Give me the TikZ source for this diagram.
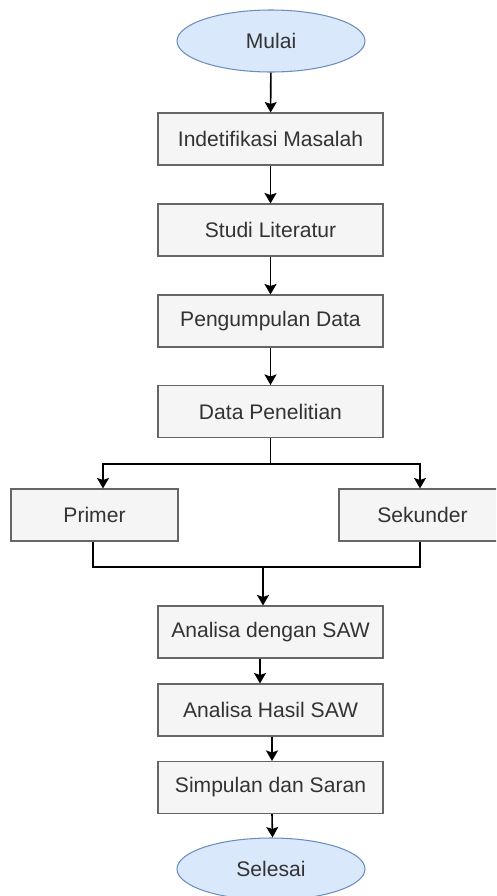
\documentclass[tikz,border=0pt]{standalone}
\usepackage{fontspec}
\setmainfont{Liberation Sans}
\usetikzlibrary{shapes.geometric,arrows.meta}

\definecolor{kotakisi}{HTML}{F5F5F5}
\definecolor{kotakgaris}{HTML}{666666}
\definecolor{elipsisi}{HTML}{DAE8FC}
\definecolor{elipsgaris}{HTML}{6C8EBF}
\definecolor{teks}{HTML}{333333}

\tikzset{
  proses/.style={draw=kotakgaris, fill=kotakisi, line width=0.6pt, minimum width=4.5cm,
    minimum height=1.04cm, text=teks, font=\fontsize{12}{14}\selectfont},
  cabang/.style={proses, minimum width=3.34cm},
  terminal/.style={ellipse, draw=elipsgaris, fill=elipsisi, line width=0.6pt, minimum width=3.76cm,
    minimum height=1.24cm, text=teks, font=\fontsize{12}{14}\selectfont},
  panah/.style={draw=black, line width=0.9pt, -{Stealth[length=0.21cm,width=0.24cm,inset=0.04cm]}},
  garis/.style={draw=black, line width=0.9pt}
}

\begin{document}
\begin{tikzpicture}
            % Batas gambar
            \clip (0,0) rectangle (9.92,-17.92);
            \useasboundingbox (0,0) rectangle (9.92,-17.92);

            % Mulai
            \node[terminal] (mulai) at (5.42,-0.82) {Mulai};
            % Tahapan awal
            \node[proses] (identifikasi) at (5.41,-2.78) {Indetifikasi Masalah};
            \node[proses] (studi) at (5.41,-4.60) {Studi Literatur};
            \node[proses] (kumpul) at (5.41,-6.42) {Pengumpulan Data};
            \node[proses] (penelitian) at (5.41,-8.23) {Data Penelitian};
            % Jenis data
            \node[cabang] (primer) at (1.89,-10.30) {Primer};
            \node[cabang] (sekunder) at (8.45,-10.30) {Sekunder};
            % Tahapan akhir
            \node[proses] (analisa) at (5.41,-12.64) {Analisa dengan SAW};
            \node[proses] (hasil) at (5.41,-14.20) {Analisa Hasil SAW};
            \node[proses] (simpulan) at (5.41,-15.75) {Simpulan dan Saran};
            % Selesai
            \node[terminal] (selesai) at (5.42,-17.38) {Selesai};

            % Alur utama
            \draw[panah] (mulai) -- (identifikasi);
            \draw[panah] (identifikasi) -- (studi);
            \draw[panah] (studi) -- (kumpul);
            \draw[panah] (kumpul) -- (penelitian);

            % Percabangan data
            \draw[garis] (penelitian.south) -- ++(0,-0.52) coordinate (pisah);
            \draw[panah] (pisah) -| ([xshift=0.17cm]primer.north);
            \draw[panah] (pisah) -| ([xshift=-0.05cm]sekunder.north);

            % Penggabungan data
            \draw[garis] ([xshift=-0.03cm]primer.south) |- (5.26,-11.34) coordinate (gabung)
                -| ([xshift=-0.05cm]sekunder.south);
            \draw[panah] (gabung) -- (gabung |- analisa.north);

            % Alur akhir
            \draw[panah] ([xshift=-0.21cm]analisa.south) -- ([xshift=-0.21cm]hasil.north);
            \draw[panah] ([xshift=0.03cm]hasil.south) -- ([xshift=0.03cm]simpulan.north);
            \draw[panah] ([xshift=0.03cm]simpulan.south) -- ([xshift=0.03cm]selesai.north);
        \end{tikzpicture}
\end{document}
